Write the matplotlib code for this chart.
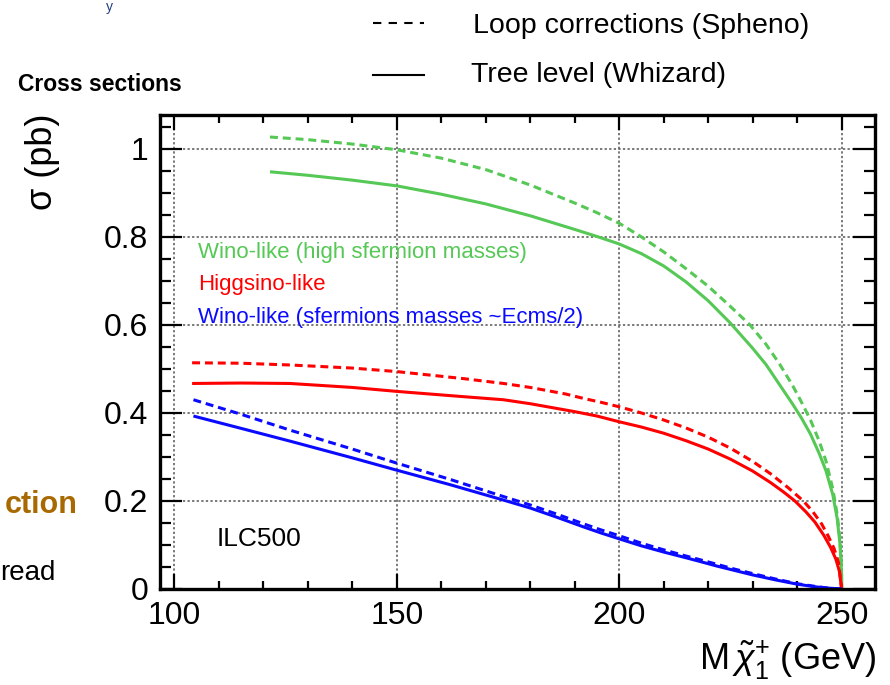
import matplotlib
matplotlib.use("Agg")
import matplotlib.pyplot as plt
from matplotlib.lines import Line2D
from matplotlib.ticker import MultipleLocator

plt.rcParams['font.family'] = ['Liberation Sans', 'DejaVu Sans']
plt.rcParams['mathtext.fontset'] = 'custom'
plt.rcParams['mathtext.rm'] = 'Liberation Sans'
plt.rcParams['mathtext.it'] = 'Liberation Sans:italic'
plt.rcParams['mathtext.bf'] = 'Liberation Sans:bold'

# ---------------- data ----------------
green_tree_x = [121.5, 130, 140, 150, 160, 170, 180, 190, 195, 200, 205, 210, 215, 220, 225, 230, 233, 236, 239, 241, 243, 245, 246.5, 248, 249, 249.6, 249.9, 250]
green_tree_y = [0.948, 0.940, 0.929, 0.916, 0.897, 0.875, 0.848, 0.817, 0.801, 0.784, 0.762, 0.734, 0.698, 0.655, 0.604, 0.547, 0.510, 0.465, 0.420, 0.388, 0.352, 0.307, 0.268, 0.215, 0.160, 0.105, 0.055, 0.0]

green_loop_x = [121.5, 130, 140, 150, 160, 170, 180, 190, 195, 200, 205, 210, 215, 220, 225, 229.4, 233, 236, 239, 241, 243, 245, 246.5, 248, 249, 249.6, 249.9, 250]
green_loop_y = [1.027, 1.021, 1.011, 0.998, 0.979, 0.953, 0.918, 0.877, 0.855, 0.831, 0.800, 0.766, 0.728, 0.688, 0.642, 0.600, 0.556, 0.512, 0.462, 0.424, 0.384, 0.335, 0.290, 0.228, 0.170, 0.115, 0.060, 0.0]

red_tree_x = [104, 115, 126, 140, 150, 165, 174, 180, 190, 195, 200, 205, 210, 215, 220, 225, 230, 234, 237, 239.5, 242, 244, 246, 247.5, 248.7, 249.5, 250]
red_tree_y = [0.467, 0.468, 0.467, 0.458, 0.449, 0.437, 0.430, 0.421, 0.403, 0.393, 0.380, 0.368, 0.354, 0.337, 0.318, 0.295, 0.268, 0.242, 0.220, 0.200, 0.175, 0.152, 0.122, 0.095, 0.068, 0.040, 0.0]

red_loop_x = [104, 115, 126, 140, 150, 165, 174, 180, 188, 192, 196, 200, 205, 210, 215, 220, 225, 230, 234, 238, 241.4, 243.5, 245.5, 247, 248.3, 249.3, 250]
red_loop_y = [0.514, 0.513, 0.509, 0.502, 0.494, 0.478, 0.467, 0.458, 0.443, 0.433, 0.424, 0.414, 0.400, 0.384, 0.366, 0.345, 0.320, 0.290, 0.262, 0.230, 0.200, 0.176, 0.148, 0.120, 0.092, 0.060, 0.0]

blue_tree_x = [104.3, 115, 126, 140, 150, 162, 174, 180, 186, 192, 196, 200, 205, 210, 215, 218, 222, 226, 230, 235, 240, 244, 247, 250]
blue_tree_y = [0.393, 0.365, 0.336, 0.298, 0.270, 0.237, 0.202, 0.184, 0.163, 0.141, 0.127, 0.114, 0.098, 0.084, 0.071, 0.063, 0.052, 0.042, 0.032, 0.021, 0.011, 0.005, 0.002, 0.0]

blue_loop_x = [104.3, 115, 126, 140, 150, 162, 174, 180, 186, 192, 196, 200, 205, 210, 215, 218, 222, 226, 230, 235, 240, 244, 247, 250]
blue_loop_y = [0.430, 0.397, 0.361, 0.318, 0.286, 0.249, 0.210, 0.191, 0.170, 0.148, 0.134, 0.121, 0.104, 0.089, 0.075, 0.067, 0.056, 0.045, 0.035, 0.023, 0.012, 0.006, 0.002, 0.0]

x_ticks = [100, 150, 200, 250]
x_tick_labels = ["100", "150", "200", "250"]
y_ticks = [0, 0.2, 0.4, 0.6, 0.8, 1]
y_tick_labels = ["0", "0.2", "0.4", "0.6", "0.8", "1"]

GREEN = '#55C855'
RED = '#FF0000'
BLUE = '#0A0AFF'

W, H = 890, 685
fig = plt.figure(figsize=(W / 100, H / 100), dpi=100)

def fx(px):
    return px / W

def fy(py):
    return 1 - py / H

ax = fig.add_axes([fx(159.5), fy(589), (875 - 159.5) / W, (589 - 115) / H])
ax.set_xlim(96.67, 257.5)
ax.set_ylim(0, 1.077)

lw = 2.2
dash = (2.6, 1.6)
ax.plot(green_tree_x, green_tree_y, color=GREEN, lw=lw, solid_capstyle='butt', solid_joinstyle='round', zorder=3)
ax.plot(green_loop_x, green_loop_y, color=GREEN, lw=lw, dashes=dash, zorder=3)
ax.plot(red_tree_x, red_tree_y, color=RED, lw=lw, solid_capstyle='butt', solid_joinstyle='round', zorder=3)
ax.plot(red_loop_x, red_loop_y, color=RED, lw=lw, dashes=dash, zorder=3)
ax.plot(blue_tree_x, blue_tree_y, color=BLUE, lw=lw, solid_capstyle='butt', solid_joinstyle='round', zorder=3)
ax.plot(blue_loop_x, blue_loop_y, color=BLUE, lw=lw, dashes=dash, zorder=3)

ax.set_xticks(x_ticks)
ax.set_xticklabels(x_tick_labels)
ax.set_yticks(y_ticks)
ax.set_yticklabels(y_tick_labels)
ax.xaxis.set_minor_locator(MultipleLocator(10))
ax.yaxis.set_minor_locator(MultipleLocator(0.05))

ax.grid(True, which='major', color='#555555', lw=1.1, linestyle=(0, (1.5, 1.5)), zorder=1)

for s in ax.spines.values():
    s.set_linewidth(2.4)
    s.set_color('black')
    s.set_zorder(4)

ax.tick_params(axis='x', which='major', direction='in', top=True, bottom=True,
               length=11, width=1.6, labelsize=23, pad=9)
ax.tick_params(axis='x', which='minor', direction='in', top=True, bottom=True,
               length=5.5, width=1.6)
ax.tick_params(axis='y', which='major', direction='in', left=True, right=True,
               length=16, width=1.6, labelsize=23, pad=8)
ax.tick_params(axis='y', which='minor', direction='in', left=True, right=True,
               length=8, width=1.6)

# axis titles
fig.text(fx(42), fy(114), "σ (pb)", rotation=90, ha='center', va='top', fontsize=26)
fig.text(fx(876), fy(670), r"M$\,\tilde{\chi}^{+}_{1}$ (GeV)", ha='right', va='baseline', fontsize=26)

# in-plot labels
fig.text(fx(198), fy(258), "Wino-like (high sfermion masses)", color=GREEN, fontsize=16, va='baseline')
fig.text(fx(198), fy(290), "Higgsino-like", color=RED, fontsize=16, va='baseline')
fig.text(fx(198), fy(323), "Wino-like (sfermions masses ~Ecms/2)", color=BLUE, fontsize=16, va='baseline')
fig.text(fx(217), fy(546), "ILC500", color='black', fontsize=19, va='baseline')

# header & legend outside the frame
fig.text(fx(18), fy(91), "Cross sections", fontsize=16.5, fontweight='bold', va='baseline')
fig.add_artist(Line2D([fx(373), fx(424)], [fy(22.5), fy(22.5)], transform=fig.transFigure,
                      color='black', lw=1.5, dashes=(4.0, 3.5)))
fig.add_artist(Line2D([fx(373), fx(424)], [fy(75), fy(75)], transform=fig.transFigure,
                      color='black', lw=1.5))
fig.text(fx(473), fy(33), "Loop corrections (Spheno)", fontsize=20.5, va='baseline')
fig.text(fx(471), fy(82), "Tree level (Whizard)", fontsize=20.5, va='baseline')

# fragments of the surrounding slide
fig.text(fx(106), fy(0.5), "y", color='#1F3F7F', fontsize=10, va='top')
fig.text(fx(5), fy(513), "ction", color='#A86A00', fontsize=22, fontweight='bold', va='baseline')
fig.text(fx(0), fy(580), "read", color='black', fontsize=20, va='baseline')

fig.savefig("out.png", dpi=100)
